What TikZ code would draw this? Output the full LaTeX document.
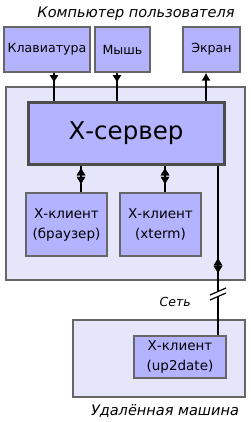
\documentclass[tikz,border=0pt]{standalone}
\usepackage{fontspec}
\setmainfont{DejaVu Sans}
\usetikzlibrary{arrows.meta,decorations.markings,calc}
\definecolor{boxfill}{HTML}{B3B3FF}
\definecolor{outerfill}{HTML}{E6E6FA}
\definecolor{boxdraw}{HTML}{666666}
\definecolor{serverdraw}{HTML}{4D4D4D}
\begin{document}
\begin{tikzpicture}[x=1pt,y=-1pt,
  hw/.style={draw=boxdraw, fill=boxfill, line width=1.5pt, inner sep=0pt, align=center, font=\fontsize{12.6}{15}\selectfont},
  client/.style={draw=boxdraw, fill=boxfill, line width=1.5pt, inner sep=0pt, align=center, font=\fontsize{13.5}{20}\selectfont},
  area/.style={draw=boxdraw, fill=outerfill, line width=1.2pt},
  conn/.style={line width=1.8pt, black},
  tipm/.style={decoration={markings, mark=at position #1 with {\arrow{Latex[length=8pt,width=9.5pt]}}}, postaction=decorate},
  tipr/.style={decoration={markings, mark=at position #1 with {\arrowreversed{Latex[length=8pt,width=9.5pt]}}}, postaction=decorate},
  captxt/.style={font=\fontsize{14.5}{17}\selectfont\itshape}
]
\useasboundingbox (0,0) rectangle (250,422);
% areas
\draw[area] (6,87) rectangle (245,280);
\draw[area] (73,320) rectangle (245,397);
% hardware
\node[hw, minimum width=86pt, minimum height=45pt] (kbd) at (47,49.5) {Клавиатура};
\node[hw, minimum width=55pt, minimum height=45pt] (mouse) at (122.5,49.5) {Мышь};
\node[hw, minimum width=57pt, minimum height=45pt] (screen) at (211.5,49.5) {Экран};
% server
\node[draw=serverdraw, fill=boxfill, line width=3pt, minimum width=196pt, minimum height=61pt, inner sep=0pt, font=\fontsize{24.5}{28}\selectfont] (server) at (126,133.5) {Х-сервер};
% clients
\node[client, minimum width=81pt, minimum height=63pt] (browser) at (66.5,224.5) {Х-клиент\\(браузер)};
\node[client, minimum width=81pt, minimum height=63pt] (xterm) at (160.5,224.5) {Х-клиент\\(xterm)};
\node[client, minimum width=92pt, minimum height=42pt] (remote) at (180,357) {Х-клиент\\(up2date)};
% captions
\node[captxt] (title) at (136,14) {Компьютер пользователя};
\node[captxt] (rcap) at (165,411) {Удалённая машина};
\node[font=\fontsize{12.5}{15}\selectfont\itshape, anchor=east, inner sep=0pt] (net) at (191,302) {Сеть};
% connectors
\draw[conn, tipm=0.36] (54,0 |- kbd.south) -- (54,0 |- server.north);
\draw[conn, tipm=0.36] (117,0 |- mouse.south) -- (117,0 |- server.north);
\draw[conn, -{Latex[length=8pt,width=9.5pt]}] (206,0 |- server.north) -- (206,0 |- screen.south);
\draw[conn, tipr=0.07, tipm=0.72] (81,0 |- server.south) -- (81,0 |- browser.north);
\draw[conn, tipr=0.07, tipm=0.72] (165,0 |- server.south) -- (165,0 |- xterm.north);
\coordinate (brkA) at (218,291.5);
\coordinate (brkB) at (218,296.5);
\draw[conn, tipr=0.73, tipm=0.86] (218,0 |- server.south) -- (brkA);
\draw[conn] (brkB) -- (218,0 |- remote.north);
\draw[line width=1.2pt] ($(brkA)+(-8,3.5)$) -- ($(brkA)+(8,-3.5)$);
\draw[line width=1.2pt] ($(brkB)+(-8,3.5)$) -- ($(brkB)+(8,-3.5)$);
\end{tikzpicture}
\end{document}
